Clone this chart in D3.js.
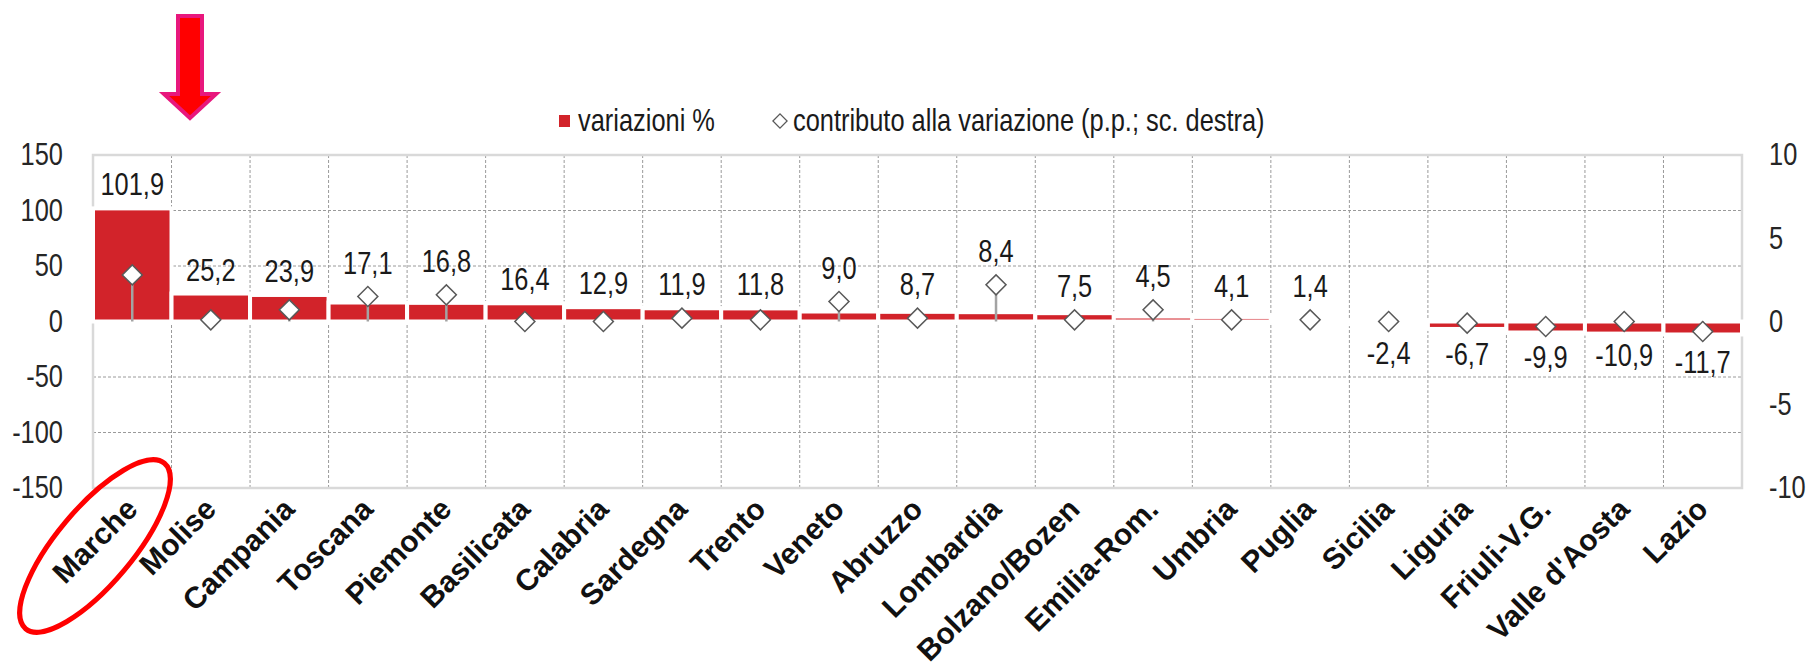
<!DOCTYPE html>
<html>
<head>
<meta charset="UTF-8">
<title>variazioni regionali</title>
<script src="https://cdn.jsdelivr.net/npm/d3@7"></script>
<style>
  body { margin: 0; background: #fff; }
  text { font-family: "Liberation Sans", Arial, sans-serif; }
</style>
</head>
<body>
<svg width="1810" height="670"></svg>
<script>
// dati
var regioni = ["Marche","Molise","Campania","Toscana","Piemonte","Basilicata","Calabria","Sardegna",
  "Trento","Veneto","Abruzzo","Lombardia","Bolzano/Bozen","Emilia-Rom.","Umbria","Puglia","Sicilia",
  "Liguria","Friuli-V.G.","Valle d'Aosta","Lazio"];
var variazioni = [101.9,25.2,23.9,17.1,16.8,16.4,12.9,11.9,11.8,9.0,8.7,8.4,7.5,4.5,4.1,1.4,-2.4,-6.7,-9.9,-10.9,-11.7];
var contributo = [2.8,0.1,0.7,1.5,1.6,0.0,0.0,0.2,0.1,1.2,0.2,2.2,0.1,0.7,0.1,0.1,0.0,-0.1,-0.3,0.0,-0.6];
var tickSx = [-150,-100,-50,0,50,100,150];
var tickDx = [-10,-5,0,5,10];
var griglia = [-100,-50,50,100];

var svg = d3.select("svg");
var pL = 93, pR = 1742, pT = 155, pB = 488;
var rosso = "#d2232a";
var stretto = 0.82; // carattere "narrow" simulato
var trattino = function(s){ return s.replace("\u2212", "-"); };
var fmt = function(v){ return trattino(d3.format(".1f")(v)).replace(".", ","); };
var fmtInt = function(v){ return trattino(d3.format("d")(v)); };

var x = d3.scaleBand().domain(regioni).range([pL, pR]).padding(0);
var yL = d3.scaleLinear().domain([-150,150]).range([pB, pT]);
var yR = d3.scaleLinear().domain([-10,10]).range([pB, pT]);
var bw = x.bandwidth();

// testo stretto: posizione in translate, scala orizzontale
function narrow(sel, fx, fy) {
  sel.attr("x", 0).attr("y", 0)
    .attr("transform", function(d,i){ return "translate(" + fx(d,i) + "," + fy(d,i) + ") scale(" + stretto + ",1)"; });
}

// griglia
var g = svg.append("g");
g.selectAll("line.h").data(griglia).enter().append("line")
  .attr("x1", pL).attr("x2", pR)
  .attr("y1", function(d){ return yL(d); }).attr("y2", function(d){ return yL(d); })
  .attr("stroke", "#9a9a9a").attr("stroke-width", 1).attr("stroke-dasharray", "3,2");
g.selectAll("line.v").data(regioni.slice(1)).enter().append("line")
  .attr("x1", function(d){ return x(d); }).attr("x2", function(d){ return x(d); })
  .attr("y1", pT).attr("y2", pB)
  .attr("stroke", "#9a9a9a").attr("stroke-width", 1).attr("stroke-dasharray", "3,2");
g.append("rect").attr("x", pL).attr("y", pT)
  .attr("width", pR-pL).attr("height", pB-pT)
  .attr("fill", "none").attr("stroke", "#d9d9d9").attr("stroke-width", 2.5);

// barre
svg.append("g").selectAll("rect").data(variazioni).enter().append("rect")
  .attr("x", function(d,i){ return x(regioni[i]); })
  .attr("width", bw)
  .attr("y", function(d){ return yL(Math.max(0,d)); })
  .attr("height", function(d){ return Math.abs(yL(d) - yL(0)); })
  .attr("fill", rosso).attr("stroke", "#fff").attr("stroke-width", 4);

// linee verticali e rombi
var cx = function(i){ return x(regioni[i]) + bw/2; };
svg.append("g").selectAll("line").data(contributo).enter().append("line")
  .attr("x1", function(d,i){ return cx(i); }).attr("x2", function(d,i){ return cx(i); })
  .attr("y1", yR(0)).attr("y2", function(d){ return yR(d); })
  .attr("stroke", "#a3a3a3").attr("stroke-width", 2.5);
var rombo = d3.symbol().type(d3.symbolSquare).size(200);
svg.append("g").selectAll("path").data(contributo).enter().append("path")
  .attr("d", rombo)
  .attr("transform", function(d,i){ return "translate(" + cx(i) + "," + yR(d) + ") rotate(45)"; })
  .attr("fill", "#fff").attr("stroke", "#595959").attr("stroke-width", 1.5);

// etichette dati
svg.append("g").selectAll("text").data(variazioni).enter().append("text")
  .attr("text-anchor", "middle").attr("font-size", 31).attr("fill", "#1a1a1a")
  .text(function(d){ return fmt(d); })
  .call(narrow, function(d,i){ return cx(i); }, function(d,i){
    if (d >= 0) return Math.min(yL(d), yR(contributo[i]) - 10) - 13;
    return Math.max(yL(d), yR(contributo[i]) + 10) + 32;
  });

// assi
var axL = svg.append("g").attr("transform", "translate(" + pL + ",0)")
  .call(d3.axisLeft(yL).tickValues(tickSx).tickSize(0).tickPadding(30).tickFormat(fmtInt));
var axR = svg.append("g").attr("transform", "translate(" + pR + ",0)")
  .call(d3.axisRight(yR).tickValues(tickDx).tickSize(0).tickPadding(27).tickFormat(fmtInt));
[axL, axR].forEach(function(a){
  a.select(".domain").remove();
  a.selectAll("text").attr("font-size", 31).attr("fill", "#262626")
    .style("font-family", "'Liberation Sans',Arial,sans-serif")
    .each(function(){
      var t = d3.select(this), tx = +t.attr("x");
      t.attr("x", tx / stretto).attr("transform", "scale(" + stretto + ",1)");
    });
});

var axB = svg.append("g").attr("transform", "translate(0," + pB + ")")
  .call(d3.axisBottom(x).tickSize(0));
axB.select(".domain").remove();
axB.selectAll("text")
  .attr("text-anchor", "end").attr("y", 0).attr("dy", 0)
  .attr("transform", "translate(7,23) rotate(-45)")
  .attr("font-size", 30).attr("font-weight", "bold").attr("fill", "#111")
  .style("font-family", "'Liberation Sans',Arial,sans-serif");

// legenda
var leg = svg.append("g");
leg.append("rect").attr("x", 559).attr("y", 115).attr("width", 11).attr("height", 12).attr("fill", rosso);
leg.append("text").attr("font-size", 31).attr("fill", "#1a1a1a").text("variazioni %")
  .call(narrow, function(){ return 578; }, function(){ return 131; });
leg.append("path").attr("d", d3.symbol().type(d3.symbolSquare).size(100))
  .attr("transform", "translate(780,121) rotate(45)")
  .attr("fill", "#fff").attr("stroke", "#595959").attr("stroke-width", 1.3);
leg.append("text").attr("font-size", 31).attr("fill", "#1a1a1a")
  .text("contributo alla variazione (p.p.; sc. destra)")
  .call(narrow, function(){ return 793; }, function(){ return 131; });

// freccia ed ellisse
svg.append("path")
  .attr("d", "M178,16 L202,16 L202,94 L216,94 L190,118 L164,94 L178,94 Z")
  .attr("fill", "#ff0000").attr("stroke", "#e8177d").attr("stroke-width", 4);
svg.append("ellipse")
  .attr("cx", 0).attr("cy", 0).attr("rx", 108).attr("ry", 38)
  .attr("transform", "translate(95,546) rotate(-50)")
  .attr("fill", "none").attr("stroke", "#ff0000").attr("stroke-width", 5);
</script>
</body>
</html>
